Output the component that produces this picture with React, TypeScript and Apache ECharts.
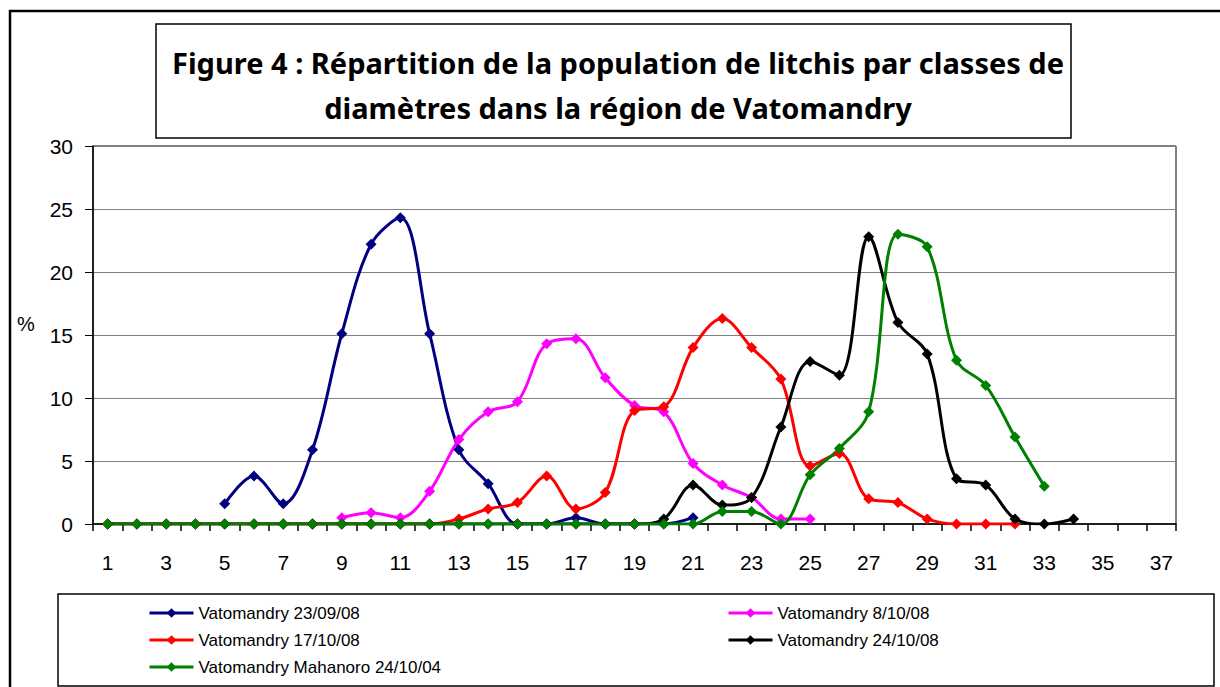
import React, { useEffect, useRef } from "react";
import * as echarts from "echarts";

const categories = Array.from({ length: 37 }, (_, i) => String(i + 1));

const seriesNames = [
  "Vatomandry 23/09/08",
  "Vatomandry 8/10/08",
  "Vatomandry 17/10/08",
  "Vatomandry 24/10/08",
  "Vatomandry Mahanoro 24/10/04",
];

const colors = ["#000080", "#FF00FF", "#FF0000", "#000000", "#008000"];

const _ = null;
const v230908 = [_, _, _, _, 1.6, 3.8, 1.6, 5.9, 15.1, 22.2, 24.3, 15.1, 5.9, 3.2, 0, 0, 0.5, 0, 0, 0, 0.5];
const v81008 = [_, _, _, _, _, _, _, _, 0.5, 0.9, 0.5, 2.6, 6.7, 8.9, 9.7, 14.3, 14.7, 11.6, 9.4, 8.9, 4.8, 3.1, 2.1, 0.4, 0.4];
const v171008 = [0, 0, 0, 0, 0, 0, 0, 0, 0, 0, 0, 0, 0.4, 1.2, 1.7, 3.8, 1.2, 2.5, 9.0, 9.3, 14.0, 16.3, 14.0, 11.5, 4.6, 5.6, 2.0, 1.7, 0.4, 0, 0, 0];
const v241008 = [0, 0, 0, 0, 0, 0, 0, 0, 0, 0, 0, 0, 0, 0, 0, 0, 0, 0, 0, 0.4, 3.1, 1.5, 2.1, 7.7, 12.9, 11.8, 22.8, 16.0, 13.5, 3.6, 3.1, 0.4, 0, 0.4];
const vMahanoro = [0, 0, 0, 0, 0, 0, 0, 0, 0, 0, 0, 0, 0, 0, 0, 0, 0, 0, 0, 0, 0, 1.0, 1.0, 0, 3.9, 6.0, 8.9, 23.0, 22.0, 13.0, 11.0, 6.9, 3.0];

const seriesData = [v230908, v81008, v171008, v241008, vMahanoro];

const yTicks = { min: 0, max: 30, interval: 5 };

export default function App() {
  const ref = useRef<HTMLDivElement>(null);

  useEffect(() => {
    document.body.style.margin = "0";
    if (!ref.current) return;
    const chart = echarts.init(ref.current, null, { renderer: "svg" });
    const axisFont = "Liberation Sans, Arial, sans-serif";
    const legendCommon = {
      orient: "vertical",
      top: 603,
      padding: 0,
      itemWidth: 44,
      itemHeight: 12,
      itemGap: 7,
      textStyle: { fontFamily: axisFont, fontSize: 17, lineHeight: 20, color: "#000" },
      lineStyle: { width: 3 },
      selectedMode: false,
    };
    const option: any = {
      animation: false,
      backgroundColor: "#ffffff",
      title: {
        text:
          "Figure 4 : Répartition de la population de litchis par classes de\ndiamètres dans la région de Vatomandry",
        left: 613,
        top: 35,
        textAlign: "center",
        textStyle: {
          fontFamily: "Noto Sans, sans-serif",
          fontWeight: "bold",
          fontSize: 29,
          lineHeight: 45,
          color: "#000",
        },
      },
      grid: {
        left: 93,
        right: 44,
        top: 146,
        bottom: 163,
        show: true,
        borderColor: "#000",
        borderWidth: 1,
        containLabel: false,
      },
      xAxis: {
        type: "category",
        data: categories,
        boundaryGap: true,
        axisLine: { lineStyle: { color: "#000", width: 1.5 } },
        axisTick: { show: true, interval: 0, length: 7, lineStyle: { color: "#000", width: 1.5 } },
        axisLabel: {
          interval: 1,
          margin: 28,
          fontFamily: axisFont,
          fontSize: 21,
          color: "#000",
        },
        splitLine: { show: false },
      },
      yAxis: {
        type: "value",
        min: yTicks.min,
        max: yTicks.max,
        interval: yTicks.interval,
        axisLine: { show: true, lineStyle: { color: "#000", width: 1.5 } },
        axisTick: { show: true, length: 8, lineStyle: { color: "#000", width: 1 } },
        axisLabel: {
          margin: 20,
          fontFamily: axisFont,
          fontSize: 21,
          color: "#000",
        },
        splitLine: { show: true, lineStyle: { color: "#808080", width: 1.2 } },
      },
      legend: [
        { ...legendCommon, left: 148, data: [seriesNames[0], seriesNames[2], seriesNames[4]] },
        { ...legendCommon, left: 727, data: [seriesNames[1], seriesNames[3]] },
      ],
      graphic: [
        {
          type: "rect",
          shape: { x: 10, y: 11, width: 1230, height: 700 },
          style: { fill: "none", stroke: "#000", lineWidth: 2.5 },
          z: -1,
        },
        {
          type: "rect",
          shape: { x: 156, y: 24, width: 915, height: 114 },
          style: { fill: "none", stroke: "#000", lineWidth: 1.5 },
        },
        {
          type: "rect",
          shape: { x: 58, y: 594, width: 1156, height: 92 },
          style: { fill: "none", stroke: "#000", lineWidth: 1.5 },
        },
        {
          type: "text",
          x: 17,
          y: 314,
          style: { text: "%", font: "20px Liberation Sans, Arial, sans-serif", fill: "#000" },
        },
      ],
      series: seriesNames.map((name, i) => ({
        name,
        type: "line",
        data: seriesData[i],
        smooth: 0.35,
        symbol: "diamond",
        symbolSize: 11,
        showSymbol: true,
        connectNulls: false,
        lineStyle: { color: colors[i], width: 3 },
        itemStyle: { color: colors[i] },
      })),
    };
    chart.setOption(option);
    return () => chart.dispose();
  }, []);

  return <div ref={ref} style={{ width: 1220, height: 687 }} />;
}
